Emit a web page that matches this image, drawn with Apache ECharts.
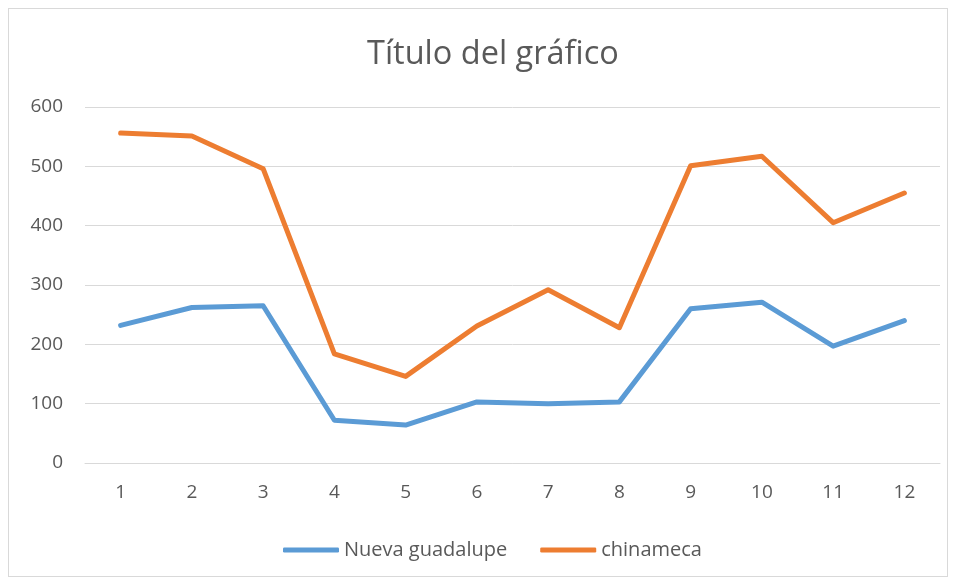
<!DOCTYPE html>
<html>
<head>
<meta charset="utf-8">
<script src="https://cdn.jsdelivr.net/npm/echarts@6/dist/echarts.min.js"></script>
<style>
  html, body { margin: 0; padding: 0; background: #fff; }
  #frame { position: absolute; left: 8px; top: 8px; width: 940px; height: 569px; border: 1px solid #d9d9d9; box-sizing: border-box; }
  #chart { position: absolute; left: 0; top: 0; width: 959px; height: 583px; }
</style>
</head>
<body>
<div id="frame"></div>
<div id="chart"></div>
<script>
const categories = ['1', '2', '3', '4', '5', '6', '7', '8', '9', '10', '11', '12']
const nuevaGuadalupe = [232, 262, 265, 72, 64, 103, 100, 103, 260, 271, 197, 240]
const chinameca = [556, 551, 496, 184, 146, 231, 292, 228, 501, 517, 405, 455]
const yTicks = { min: 0, max: 600, interval: 100 }

const font = '"Open Sans", Calibri, sans-serif'
const chart = echarts.init(document.getElementById('chart'))

chart.setOption({
  animation: false,
  title: {
    text: 'Título del gráfico',
    left: 362,
    top: 33,
    textStyle: { fontFamily: font, fontSize: 32.5, fontWeight: 'normal', color: '#595959' }
  },
  legend: {
    top: 535,
    left: 278,
    itemWidth: 56,
    itemHeight: 5,
    itemGap: 33,
    icon: 'roundRect',
    textStyle: { fontFamily: font, fontSize: 20, color: '#595959' },
    data: ['Nueva guadalupe', 'chinameca']
  },
  grid: { left: 85, right: 19, top: 107, bottom: 120 },
  xAxis: {
    type: 'category',
    data: categories,
    boundaryGap: true,
    axisLine: { show: true, lineStyle: { color: '#d9d9d9', width: 1 } },
    axisTick: { show: false },
    axisLabel: { fontFamily: font, fontSize: 19, color: '#595959', margin: 20 }
  },
  yAxis: {
    type: 'value',
    min: yTicks.min,
    max: yTicks.max,
    interval: yTicks.interval,
    axisLine: { show: false },
    axisTick: { show: false },
    axisLabel: { fontFamily: font, fontSize: 19, color: '#595959', margin: 22 },
    splitLine: { lineStyle: { color: '#d9d9d9', width: 1 } }
  },
  series: [
    {
      name: 'Nueva guadalupe',
      type: 'line',
      data: nuevaGuadalupe,
      symbol: 'none',
      lineStyle: { color: '#5b9bd5', width: 5, cap: 'round', join: 'round' },
      itemStyle: { color: '#5b9bd5' }
    },
    {
      name: 'chinameca',
      type: 'line',
      data: chinameca,
      symbol: 'none',
      lineStyle: { color: '#ed7d31', width: 5, cap: 'round', join: 'round' },
      itemStyle: { color: '#ed7d31' }
    }
  ]
})
</script>
</body>
</html>
